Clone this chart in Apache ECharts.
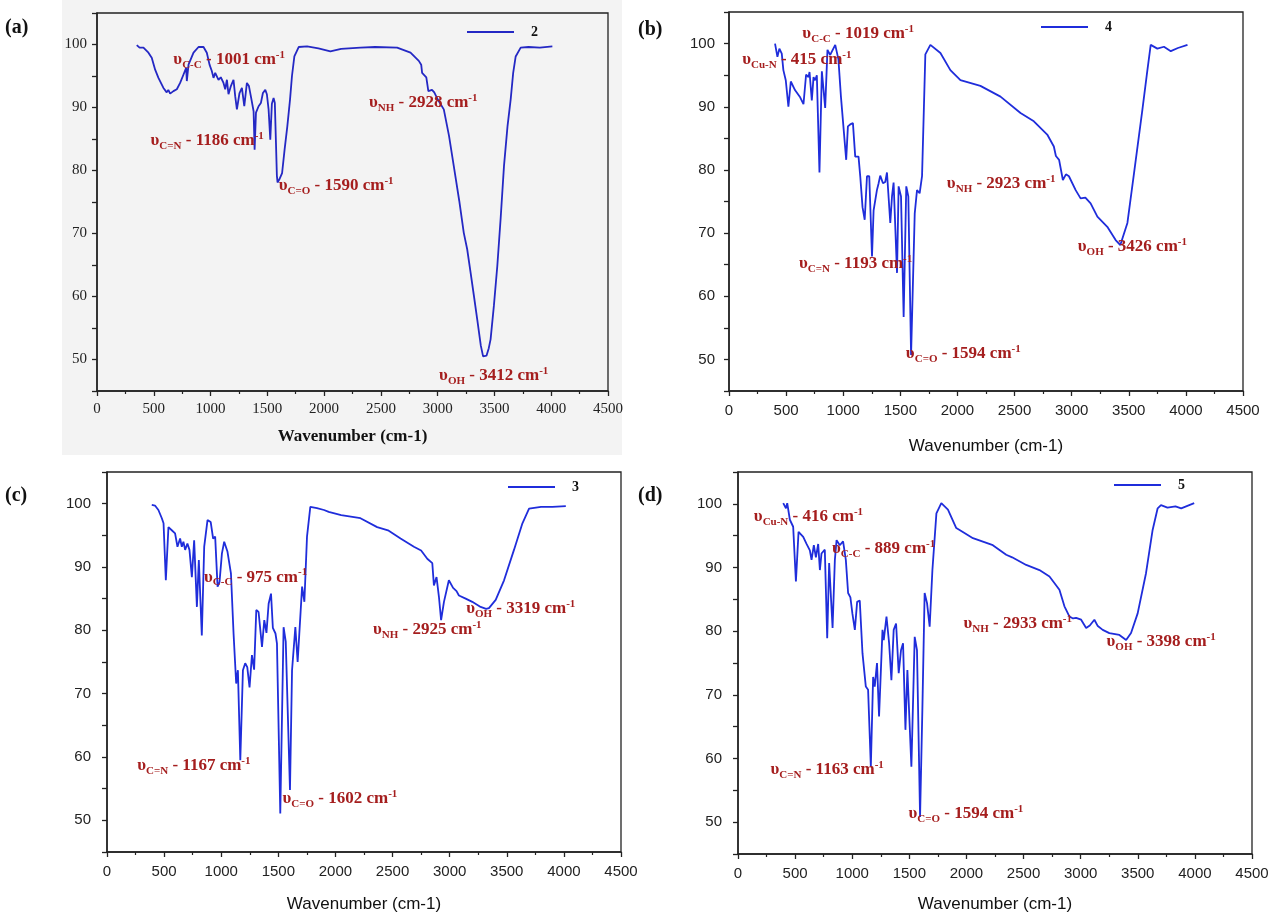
<!DOCTYPE html>
<html>
<head>
<meta charset="utf-8">
<script src="https://cdn.jsdelivr.net/npm/echarts@6/dist/echarts.min.js"></script>
<style>
  html, body { margin: 0; padding: 0; background: #ffffff; }
  #chart { width: 1275px; height: 913px; }
</style>
</head>
<body>
<div id="chart"></div>
<script>
// FT-IR spectra: [wavenumber (cm-1), transmittance (%)]
const spectrum2 = [
  [350,99.9],[375,99.5],[409,99.5],[453,98.7],[482,97.9],[512,96.0],[541,94.7],[585,93.1],[614,92.4],[628,92.8],
  [644,92.2],[673,92.6],[703,92.9],[732,93.9],[761,95.2],[785,96.3],[791,94.2],[806,96.8],[850,98.7],[894,99.6],
  [938,99.6],[967,98.7],[991,96.8],[1011,95.8],[1026,94.7],[1041,95.5],[1070,94.4],[1090,94.8],[1114,93.9],[1129,92.9],
  [1144,94.4],[1158,92.1],[1179,93.4],[1202,94.4],[1217,91.8],[1232,89.7],[1255,92.3],[1276,93.1],[1297,90.2],[1320,93.9],
  [1338,93.4],[1358,91.5],[1379,89.4],[1388,83.3],[1400,89.2],[1423,90.2],[1443,90.7],[1461,92.3],[1482,92.8],[1496,92.1],
  [1511,89.7],[1526,84.9],[1540,90.6],[1555,91.5],[1566,90.7],[1576,84.4],[1584,79.2],[1590,78.1],[1606,78.6],[1630,79.6],
  [1652,83.3],[1676,87.0],[1700,91.3],[1717,95.0],[1738,98.1],[1776,99.6],[1850,99.7],[1950,99.4],[2055,98.9],[2150,99.3],
  [2320,99.5],[2450,99.6],[2643,99.5],[2761,98.7],[2834,97.4],[2855,96.8],[2863,95.5],[2880,95.3],[2900,94.8],[2918,92.6],
  [2928,92.3],[2950,92.8],[2970,92.4],[3000,91.3],[3054,89.7],[3100,85.5],[3142,80.7],[3190,75.2],[3230,70.1],[3260,67.5],
  [3290,63.8],[3320,60.0],[3349,56.3],[3380,52.2],[3400,50.5],[3412,50.3],[3430,50.6],[3450,51.8],[3466,53.2],[3495,58.5],
  [3525,64.8],[3555,72.5],[3584,80.7],[3615,87.0],[3643,91.3],[3665,95.5],[3687,98.1],[3731,99.5],[3800,99.6],[3900,99.5],
  [4010,99.7]
];

const spectrum4 = [
  [403,100.0],[424,97.9],[441,99.2],[462,98.4],[476,95.8],[497,94.2],[520,90.0],[541,94.0],[579,92.6],[623,91.5],
  [638,91.8],[652,90.4],[675,95.1],[696,94.7],[705,95.5],[725,91.0],[740,94.7],[754,94.2],[769,95.0],[792,79.6],
  [813,95.6],[842,89.8],[862,99.0],[886,98.2],[930,99.8],[958,97.5],[980,91.6],[997,91.3],[1026,81.6],[1041,86.9],
  [1061,87.2],[1085,87.4],[1105,82.1],[1134,82.1],[1149,79.0],[1169,74.1],[1188,72.1],[1208,79.0],[1228,79.0],[1252,66.3],
  [1266,73.6],[1295,76.8],[1310,77.9],[1324,79.1],[1348,77.9],[1368,78.1],[1383,79.6],[1412,71.6],[1427,75.8],[1441,78.0],
  [1471,63.7],[1485,77.4],[1506,75.8],[1529,56.7],[1552,77.4],[1570,75.8],[1594,50.7],[1626,73.1],[1646,76.8],[1669,76.3],
  [1690,79.0],[1719,98.3],[1763,99.8],[1851,98.5],[1938,95.8],[2026,94.2],[2201,93.3],[2377,91.6],[2552,89.0],[2669,87.7],
  [2786,85.6],[2844,83.7],[2862,82.2],[2873,81.9],[2890,81.6],[2923,78.4],[2950,79.3],[2976,79.0],[3035,76.8],[3078,75.5],
  [3120,75.6],[3166,74.7],[3225,72.6],[3312,71.0],[3385,68.9],[3426,68.1],[3488,71.6],[3546,79.5],[3619,89.5],[3663,95.8],
  [3692,99.8],[3750,99.2],[3808,99.5],[3868,98.8],[3930,99.3],[4014,99.8]
];

const spectrum3 = [
  [392,99.8],[420,99.7],[450,99.0],[480,97.7],[495,96.9],[515,87.9],[538,96.3],[567,95.8],[596,95.3],[617,93.2],
  [640,94.5],[655,93.2],[669,94.0],[684,92.7],[704,93.7],[722,92.7],[743,88.4],[763,94.2],[787,83.7],[804,91.1],
  [830,79.2],[851,93.2],[880,97.4],[908,97.1],[929,94.5],[947,94.8],[968,86.9],[985,87.6],[1006,92.1],[1026,94.0],
  [1055,92.4],[1085,89.0],[1108,79.5],[1131,71.6],[1146,73.7],[1167,59.5],[1190,73.7],[1210,74.8],[1228,74.2],[1248,71.0],
  [1269,76.1],[1288,73.8],[1307,83.2],[1327,82.9],[1357,77.4],[1377,81.6],[1396,79.6],[1415,84.2],[1436,85.8],[1452,80.4],
  [1475,79.5],[1488,77.9],[1517,51.1],[1546,80.5],[1565,78.2],[1602,54.8],[1620,73.7],[1649,80.5],[1669,75.0],[1708,86.9],
  [1728,84.5],[1751,94.8],[1780,99.5],[1838,99.3],[1900,99.0],[1941,98.7],[2050,98.2],[2219,97.7],[2365,96.3],[2460,95.8],
  [2570,94.5],[2687,93.2],[2750,92.6],[2804,91.3],[2848,90.6],[2862,87.1],[2885,88.4],[2906,85.3],[2925,81.6],[2950,84.5],
  [2993,87.9],[3030,86.7],[3060,86.2],[3081,85.5],[3140,85.0],[3198,84.5],[3271,83.7],[3319,83.4],[3344,83.5],[3403,84.8],
  [3476,87.9],[3563,92.7],[3637,96.9],[3695,99.2],[3800,99.5],[3900,99.5],[4017,99.6]
];

const spectrum5 = [
  [396,100.1],[420,99.3],[431,100.1],[454,97.5],[483,96.4],[507,87.8],[530,95.6],[571,94.8],[600,93.7],[629,92.7],
  [644,91.2],[664,93.5],[682,91.6],[702,93.7],[717,89.6],[731,92.2],[760,92.8],[781,78.9],[798,90.7],[828,80.5],
  [848,91.2],[863,94.3],[891,93.5],[920,94.1],[944,91.2],[964,86.0],[984,85.3],[1002,82.7],[1023,80.2],[1043,84.6],
  [1066,84.8],[1090,76.5],[1119,71.3],[1139,70.8],[1163,58.7],[1183,72.8],[1197,71.3],[1217,75.0],[1235,66.6],[1265,80.2],
  [1276,78.6],[1300,82.3],[1323,78.1],[1343,72.3],[1363,80.2],[1384,81.2],[1407,73.4],[1427,77.0],[1445,78.1],[1466,64.5],
  [1483,73.9],[1518,58.7],[1547,79.1],[1567,77.0],[1594,50.8],[1614,67.6],[1634,86.0],[1655,84.4],[1678,80.7],[1702,89.6],
  [1737,98.5],[1780,100.1],[1838,99.1],[1911,96.2],[1940,95.9],[2057,94.6],[2231,93.5],[2348,92.0],[2400,91.6],[2523,90.4],
  [2639,89.6],[2727,88.6],[2814,86.5],[2858,83.9],[2875,84.2],[2902,82.3],[2933,82.0],[2960,82.1],[3004,81.8],[3048,80.5],
  [3080,80.9],[3120,81.8],[3150,80.8],[3193,80.2],[3251,79.7],[3339,79.4],[3398,78.6],[3441,79.7],[3499,82.8],[3572,89.1],
  [3630,95.9],[3674,99.3],[3703,99.8],[3760,99.4],[3830,99.6],[3880,99.3],[3994,100.1]
];

// Band assignments: vibration subscript, wavenumber text
const bands2 = [['C-C','1001'],['C=N','1186'],['C=O','1590'],['NH','2928'],['OH','3412']];
const bands4 = [['C-C','1019'],['Cu-N','415'],['C=N','1193'],['C=O','1594'],['NH','2923'],['OH','3426']];
const bands3 = [['C-C','975'],['C=N','1167'],['C=O','1602'],['NH','2925'],['OH','3319']];
const bands5 = [['Cu-N','416'],['C-C','889'],['C=N','1163'],['C=O','1594'],['NH','2933'],['OH','3398']];

// Where each band caption starts, in axis units [cm-1, %T]
const anchors2 = [[668,97.6],[467,84.7],[1596,77.6],[2390,90.8],[3008,47.5]];
const anchors4 = [[638,101.6],[111,97.4],[608,65.1],[1544,50.9],[1903,77.9],[3049,67.8]];
const anchors3 = [[845,88.4],[260,58.7],[1532,53.4],[2324,80.1],[3140,83.4]];
const anchors5 = [[134,98.0],[819,93.0],[280,58.2],[1488,51.4],[1969,81.2],[3222,78.3]];

const yTickValues = [50, 60, 70, 80, 90, 100];

const SERIF = '"Liberation Serif", "Times New Roman", serif';
const SANS = '"Liberation Sans", Arial, sans-serif';
const NOTE = '#a51e1e';

const panels = [
  { name: '2', data: spectrum2, bands: bands2, anchors: anchors2, font: SERIF, bold: true,
    grid: { left: 97, top: 13, width: 511, height: 378 }, line: '#2428c4', yMargin: 10, xMargin: 11, nameGap: 37,
    legend: { left: 467, top: 25 }, tag: { text: '(a)', x: 5, y: 18 } },
  { name: '4', data: spectrum4, bands: bands4, anchors: anchors4, font: SANS, bold: false,
    grid: { left: 729, top: 12, width: 514, height: 379 }, line: '#1f2ddb', yMargin: 14, xMargin: 12, nameGap: 47,
    legend: { left: 1041, top: 20 }, tag: { text: '(b)', x: 638, y: 20 } },
  { name: '3', data: spectrum3, bands: bands3, anchors: anchors3, font: SANS, bold: false,
    grid: { left: 107, top: 472, width: 514, height: 380 }, line: '#1f2ddb', yMargin: 16, xMargin: 12, nameGap: 44,
    legend: { left: 508, top: 480 }, tag: { text: '(c)', x: 5, y: 486 } },
  { name: '5', data: spectrum5, bands: bands5, anchors: anchors5, font: SANS, bold: false,
    grid: { left: 738, top: 472, width: 514, height: 382 }, line: '#1f2ddb', yMargin: 16, xMargin: 12, nameGap: 42,
    legend: { left: 1114, top: 478 }, tag: { text: '(d)', x: 638, y: 486 } }
];

const noteRich = {
  v: { fontFamily: SERIF, fontWeight: 'bold', fontSize: 17, color: NOTE, lineHeight: 24, verticalAlign: 'middle' },
  s: { fontFamily: SERIF, fontWeight: 'bold', fontSize: 11, color: NOTE, lineHeight: 24, verticalAlign: 'bottom', padding: [0, 0, 1, 0] },
  t: { fontFamily: SERIF, fontWeight: 'bold', fontSize: 17, color: NOTE, lineHeight: 24, verticalAlign: 'middle' },
  p: { fontFamily: SERIF, fontWeight: 'bold', fontSize: 11, color: NOTE, lineHeight: 24, verticalAlign: 'top', padding: [2, 0, 0, 0] }
};

const grids = [], xAxes = [], yAxes = [], series = [], legends = [], graphics = [];

// light grey backdrop behind panel (a)
graphics.push({ type: 'rect', z: -1, silent: true, shape: { x: 62, y: 0, width: 560, height: 455 },
  style: { fill: '#f3f3f3' } });

panels.forEach((p, i) => {
  const axisText = { fontFamily: p.font, fontSize: 15, color: '#222' };
  grids.push(Object.assign({
    show: true, borderColor: '#222', borderWidth: 1.3, backgroundColor: 'transparent',
    containLabel: false, outerBoundsMode: 'none'
  }, p.grid));
  xAxes.push({
    gridIndex: i, type: 'value', min: 0, max: 4500, interval: 500,
    name: 'Wavenumber (cm-1)', nameLocation: 'middle', nameGap: p.nameGap,
    nameTextStyle: { fontFamily: p.font, fontSize: 17, fontWeight: p.bold ? 'bold' : 'normal', color: '#111' },
    axisLine: { onZero: false, lineStyle: { color: '#222', width: 1.5 } },
    axisTick: { show: true, length: 5, lineStyle: { color: '#222', width: 1.3 } },
    minorTick: { show: true, splitNumber: 2, length: 3, lineStyle: { color: '#222', width: 1.2 } },
    axisLabel: Object.assign({ margin: p.xMargin, formatter: v => String(v) }, axisText),
    splitLine: { show: false }
  });
  yAxes.push({
    gridIndex: i, type: 'value', min: 45, max: 105, interval: 5,
    axisLine: { onZero: false, lineStyle: { color: '#222', width: 1.5 } },
    axisTick: { show: true, length: 5, lineStyle: { color: '#222', width: 1.3 } },
    axisLabel: Object.assign({ margin: p.yMargin, formatter: v => (yTickValues.indexOf(v) >= 0 ? String(v) : '') }, axisText),
    splitLine: { show: false }
  });
  series.push({
    type: 'line', name: p.name, xAxisIndex: i, yAxisIndex: i, data: p.data,
    symbol: 'none', showSymbol: false, smooth: false, clip: true,
    lineStyle: { color: p.line, width: 1.8 }, itemStyle: { color: p.line },
    markPoint: {
      symbol: 'circle', symbolSize: 1, silent: true,
      itemStyle: { color: 'rgba(0,0,0,0)' },
      data: p.bands.map((b, k) => ({
        coord: p.anchors[k],
        label: {
          show: true, position: 'right', distance: 0,
          formatter: '{v|\u03c5}{s|' + b[0] + '}{t| - ' + b[1] + ' cm}{p|-1}',
          rich: noteRich
        }
      }))
    }
  });
  legends.push({
    data: [{ name: p.name, icon: 'rect', itemStyle: { color: p.line } }],
    left: p.legend.left, top: p.legend.top, padding: 0, itemWidth: 47, itemHeight: 2,
    textStyle: { fontFamily: SERIF, fontWeight: 'bold', fontSize: 14, color: '#111', padding: [0, 0, 0, 12] },
    selectedMode: false
  });
  graphics.push({ type: 'text', x: p.tag.x, y: p.tag.y,
    style: { text: p.tag.text, font: 'bold 20px ' + SERIF, fill: '#111' } });
});

const chart = echarts.init(document.getElementById('chart'), null, { renderer: 'canvas' });
chart.setOption({
  animation: false,
  backgroundColor: '#ffffff',
  grid: grids, xAxis: xAxes, yAxis: yAxes, series: series, legend: legends, graphic: graphics
});
</script>
</body>
</html>
